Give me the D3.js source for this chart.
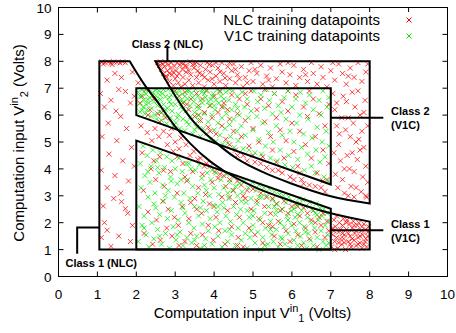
<!DOCTYPE html>
<html><head><meta charset="utf-8">
<script src="https://cdn.jsdelivr.net/npm/d3@7"></script>
<style>body{margin:0;background:#fff}svg{display:block}text{font-family:"Liberation Sans",Arial,Helvetica,sans-serif}</style>
</head><body><svg id="c" width="456" height="333"></svg>
<script>
const xTicks=[0,1,2,3,4,5,6,7,8,9,10];
const yTicks=[0,1,2,3,4,5,6,7,8,9,10];
const legendLabels=["NLC training datapoints","V1C training datapoints"];
const seriesColors=["#ff0000","#00ee00"];

// NLC training datapoints (red)
const nlcPoints=[
[1.12,7.98],[1.2,7.95],[1.28,7.97],[1.35,7.93],[1.42,7.98],[1.5,7.96],[1.58,7.94],[1.65,7.98],[1.72,7.95],[1.15,7.9],[1.38,7.88],[1.45,7.55],[1.62,7.4],[1.25,7.3],[1.55,6.95],[1.72,6.88],[1.35,6.55],[1.18,6.3],[1.48,6.15],[1.85,6.45],[1.95,6.7],[1.6,5.95],[1.28,5.7],[1.75,5.5],[1.12,5.2],[1.5,5.05],[1.88,4.8],[1.3,4.55],[1.65,4.3],[1.1,3.95],[1.45,3.75],[1.8,3.55],[1.25,3.3],[1.6,3.1],[1.15,2.62],[1.42,2.9],[1.62,2.78],[1.78,2.35],[1.72,2.52],[1.18,2.0],[1.25,1.72],[1.55,1.5],[1.35,1.12],[1.9,1.9],[1.85,1.3],[1.1,1.45],[1.95,4.1],[1.08,6.8],[1.9,7.6],
[2.05,7.2],[2.1,6.45],[2.12,5.6],[2.15,4.6],[2.18,3.2],[2.2,1.6],[2.25,6.95],[2.28,5.35],[2.3,2.4],[2.35,6.2],[2.38,4.0],[2.4,5.05],[2.42,1.2],[2.45,6.6],[2.48,5.5],[2.5,3.6],[2.52,2.1],[2.55,6.05],[2.58,5.2],[2.6,4.45],[2.62,1.35],[2.65,6.1],[2.68,2.8],[2.7,5.4],[2.72,3.35],[2.75,5.9],[2.78,1.8],[2.8,4.9],[2.82,2.5],[2.85,5.25],[2.88,3.9],[2.9,5.5],[2.92,1.5],[2.95,4.65],[2.98,2.2],[3.0,5.0],[3.05,3.1],[3.08,1.9],[3.1,4.75],[3.15,5.15],[3.18,2.6],[3.2,4.2],[3.25,1.3],[3.28,4.9],[3.3,3.55],[3.35,2.15],[3.38,4.5],[3.4,1.6],[3.45,3.9],[3.48,4.65],[3.5,2.9],[3.55,1.15],[3.58,4.35],[3.6,3.3],[3.65,4.4],[3.68,2.35],[3.7,1.55],[3.75,4.1],[3.78,3.05],[3.8,4.2],[3.85,1.9],[3.88,2.7],[3.9,4.1],[3.95,3.5],[3.98,1.35],[4.02,3.9],[4.05,2.2],[4.1,3.65],[4.12,1.7],[4.15,3.8],[4.2,2.95],[4.25,3.75],[4.28,1.2],[4.3,3.35],[4.35,2.45],[4.4,3.6],[4.45,1.85],[4.5,3.2],[4.55,2.75],[4.6,3.55],[4.62,1.45],[4.65,2.2],[4.7,3.4],[4.75,1.1],[4.8,2.9],[4.85,3.2],[4.9,1.8],[4.95,2.5],[5.0,3.25],[5.05,1.55],[5.1,2.8],[5.15,2.15],[5.2,3.1],[5.25,1.25],[5.3,2.6],[5.35,2.95],[5.4,1.9],[5.45,2.35],[5.5,2.9],[5.55,1.5],[5.6,2.7],[5.65,2.05],[5.7,1.2],[5.75,2.5],[5.8,2.8],[5.85,1.7],[5.9,2.35],[5.95,1.3],[6.0,2.6],[6.05,1.95],[6.1,2.7],[6.15,1.55],[6.2,2.25],[6.25,1.15],[6.3,2.55],[6.35,1.8],[6.4,2.35],[6.45,1.4],[6.5,2.1],[6.55,2.45],[6.6,1.65],[6.65,1.1],[6.7,2.2],[6.75,1.9],[6.8,2.35],[6.85,1.45],[6.9,2.05],[6.95,1.7],[2.3,6.0],[2.6,5.75],[2.15,6.7],[2.45,4.3],[3.05,4.45],[3.25,3.7],[3.55,2.5],[3.7,3.8],[4.0,2.6],[4.4,2.95],[4.75,3.0],[5.25,2.0],[5.7,2.45],[6.15,2.6],[6.6,2.0],[3.4,2.75],[4.6,1.15],[5.5,1.85],[2.7,3.95],[3.1,1.15],
[7.02,1.1],[7.05,1.55],[7.08,2.1],[7.1,1.3],[7.12,1.85],[7.15,2.25],[7.18,1.05],[7.2,1.65],[7.22,2.0],[7.25,1.4],[7.28,1.2],[7.3,1.9],[7.32,2.15],[7.35,1.55],[7.38,1.0],[7.4,1.75],[7.42,2.1],[7.45,1.3],[7.48,1.95],[7.5,1.5],[7.52,1.1],[7.55,1.8],[7.58,2.05],[7.6,1.35],[7.62,1.6],[7.65,1.15],[7.68,1.9],[7.7,1.45],[7.72,2.0],[7.75,1.25],[7.78,1.7],[7.8,1.05],[7.82,1.55],[7.85,1.95],[7.88,1.3],[7.9,1.75],[7.92,1.1],[7.95,1.5],[7.97,1.85],[7.05,1.8],[7.15,1.45],[7.25,1.75],[7.35,1.25],[7.45,1.6],[7.55,1.4],[7.65,1.7],[7.75,1.5],[7.85,1.2],[7.95,1.65],[7.1,1.0],[7.3,1.6],[7.5,1.2],[7.7,1.2],[7.9,1.4],[7.4,2.0],[7.6,1.9],[7.8,1.85],[7.2,1.25],[7.08,1.7],[7.33,1.4],
[2.55,7.95],[2.6,7.85],[2.62,7.98],[2.65,7.7],[2.68,7.9],[2.7,7.55],[2.72,7.8],[2.75,7.97],[2.78,7.4],[2.8,7.65],[2.82,7.88],[2.85,7.25],[2.88,7.75],[2.9,7.95],[2.92,7.5],[2.95,7.1],[2.98,7.82],[3.0,7.35],[3.02,7.65],[3.05,7.95],[3.08,7.2],[3.1,7.55],[3.12,7.85],[3.15,7.05],[3.18,7.7],[3.2,7.4],[3.22,7.92],[3.25,7.15],[3.28,7.6],[3.3,7.8],[3.35,7.3],[3.38,7.98],[3.4,7.5],[3.45,7.1],[3.48,7.75],[3.5,7.9],[3.55,7.4],[3.58,7.65],[3.6,7.2],[3.65,7.85],[3.7,7.5],[3.75,7.05],[3.78,7.7],[3.82,7.95],[3.85,7.3],[3.9,7.6],[3.95,7.85],[4.0,7.15],[4.05,7.45],[4.1,7.75],[4.15,7.25],[4.2,7.95],[4.25,7.55],[4.3,7.1],[4.35,7.8],[4.4,7.35],[4.45,7.65],[4.5,7.9],[4.55,7.2],[4.6,7.5],[4.7,7.8],[4.75,7.05],[4.8,7.4],[4.9,7.65],[4.95,7.95],[5.0,7.25],[5.1,7.55],[5.2,7.85],[5.25,7.15],[5.35,7.45],[5.45,7.75],[5.5,7.05],[5.6,7.35],[5.7,7.9],[5.75,7.6],[5.85,7.2],[5.95,7.5],[6.05,7.85],[6.1,7.1],[6.2,7.4],[6.3,7.7],[6.4,7.25],[6.5,7.95],[6.55,7.55],[6.65,7.15],[6.75,7.8],[6.8,7.4],[6.9,7.05],[7.0,7.65],[7.1,7.3],[7.2,7.9],[7.3,7.55],[7.4,7.15],[7.5,7.75],[7.6,7.4],[7.7,7.95],[7.8,7.25],[7.9,7.6],[7.95,7.9],[2.76,7.45],[2.95,7.6],[3.15,7.95],[3.35,7.65],[3.55,7.95],[3.75,7.4],[3.95,7.35],[4.15,7.6],[4.4,7.95],[4.65,7.35],[5.05,7.7],[5.4,7.3],[5.9,7.95],[6.35,7.5],[7.05,7.95],[7.45,7.45],[2.85,7.55],[3.05,7.45],[3.25,7.82],[3.45,7.88],[3.62,7.55],[3.88,7.88],[4.05,7.95],[4.28,7.38],[4.55,7.7],[4.85,7.2],
[7.05,6.8],[7.1,6.2],[7.15,5.6],[7.2,4.9],[7.25,4.3],[7.3,3.6],[7.35,3.1],[7.4,6.5],[7.45,5.9],[7.5,5.2],[7.55,4.6],[7.6,3.9],[7.65,3.3],[7.7,6.9],[7.75,6.0],[7.8,5.4],[7.85,4.8],[7.9,4.1],[7.95,3.5],[7.92,2.95],[7.12,3.8],[7.22,5.3],[7.32,6.7],[7.42,4.5],[7.52,3.35],[7.62,6.3],[7.72,5.1],[7.82,3.7],[7.88,6.55],[7.08,4.6],[7.28,5.9],[7.48,4.0],[7.58,5.7],[7.68,4.35],[7.78,3.15],[7.85,6.1],[7.18,3.3],[7.38,5.45],[7.55,6.85],[7.75,4.7],[7.95,5.6],[7.15,6.45],[7.35,4.0],[7.65,5.0],[7.9,3.0],[7.45,3.0],[7.6,2.95],
[3.0,6.9],[3.1,6.7],[3.2,6.45],[3.25,6.85],[3.35,6.2],[3.4,6.6],[3.5,5.95],[3.55,6.8],[3.6,6.35],[3.65,5.8],[3.7,6.6],[3.75,6.1],[3.8,6.9],[3.85,5.55],[3.9,6.35],[3.95,5.9],[4.0,6.7],[4.05,5.3],[4.1,6.1],[4.15,6.9],[4.2,5.6],[4.25,6.45],[4.3,5.1],[4.35,6.2],[4.4,5.85],[4.45,6.75],[4.5,5.4],[4.55,4.7],[4.6,6.05],[4.65,6.6],[4.7,5.2],[4.75,4.5],[4.8,5.8],[4.85,6.4],[4.9,4.85],[4.95,6.9],[5.0,5.5],[5.05,4.25],[5.1,6.2],[5.15,5.0],[5.2,6.6],[5.25,4.45],[5.3,5.75],[5.35,4.05],[5.4,6.35],[5.45,5.2],[5.5,4.7],[5.55,6.8],[5.6,5.9],[5.65,3.95],[5.7,5.45],[5.75,6.5],[5.8,4.4],[5.85,5.05],[5.9,6.15],[5.95,3.7],[6.0,5.7],[6.05,4.65],[6.1,6.75],[6.15,4.1],[6.2,5.4],[6.25,3.6],[6.3,6.3],[6.35,4.9],[6.4,5.95],[6.45,3.4],[6.5,4.4],[6.55,6.6],[6.6,5.2],[6.65,3.85],[6.7,6.05],[6.75,3.3],[6.8,4.7],[6.85,5.6],[6.9,3.6],[6.95,6.4],[6.95,4.2],[4.6,4.5],[5.2,4.2],[5.75,3.85],[6.3,3.45],[6.85,3.15],[4.85,4.3],[5.5,3.95],[6.05,3.6],[6.6,3.35],[3.3,6.4],[3.6,6.0],[4.2,6.3],[4.8,6.8],[5.3,6.95],[5.9,6.9],[6.45,6.9],[3.9,5.4],[4.4,4.9],[5.0,4.5],[5.6,4.25],[6.2,3.85],[6.8,3.55]
];

// V1C training datapoints (green)
const v1cPoints=[
[2.05,6.85],[2.08,6.42],[2.1,6.12],[2.12,6.68],[2.15,6.95],[2.18,6.3],[2.2,6.55],[2.22,6.05],[2.25,6.78],[2.28,6.2],[2.3,6.92],[2.32,6.45],[2.35,6.65],[2.38,5.95],[2.4,6.25],[2.42,6.85],[2.45,6.5],[2.48,6.02],[2.5,6.72],[2.52,5.85],[2.55,6.35],[2.58,6.9],[2.6,6.12],[2.62,6.58],[2.65,5.8],[2.68,6.8],[2.7,6.4],[2.72,6.0],[2.75,6.68],[2.78,5.68],[2.8,6.25],[2.82,6.95],[2.85,6.5],[2.88,5.9],[2.9,6.75],[2.92,6.15],[2.95,5.6],[2.98,6.88],[3.0,6.4],[3.02,5.72],[3.05,6.62],[3.08,6.02],[3.1,6.95],[3.12,5.5],[3.15,6.3],[3.18,6.78],[3.2,5.85],[3.22,6.5],[3.25,5.42],[3.28,6.15],[3.3,6.9],[3.32,6.6],[3.35,5.65],[3.38,6.35],[3.4,5.95],[3.42,6.82],[3.45,5.3],[3.48,6.5],[3.5,6.1],[3.52,6.95],[3.55,5.55],[3.58,6.7],[3.6,5.8],[3.62,6.25],[3.65,5.2],[3.68,6.85],[3.7,6.45],[3.72,5.5],[3.75,6.05],[3.78,6.65],[3.8,5.3],[3.82,6.92],[3.85,5.75],[3.88,6.35],[3.9,5.1],[3.92,6.58],[3.95,6.0],[3.98,6.8],[4.0,5.45],[4.02,6.2],[4.05,5.02],[4.08,6.95],[4.1,5.7],[4.12,6.45],[4.15,5.25],[4.18,6.7],[4.2,5.9],[4.22,4.92],[4.25,6.3],[4.28,5.5],[4.3,6.85],[4.32,6.05],[4.35,4.95],[4.38,6.55],[4.4,5.65],[4.42,5.2],[4.45,6.2],[4.48,6.9],[4.5,5.85],[4.52,4.8],[4.55,6.4],[4.58,5.4],[4.6,6.7],[4.62,5.05],[4.65,6.0],[4.7,5.6],[4.72,6.85],[4.75,4.75],[4.78,6.3],[4.8,5.25],[4.85,6.6],[4.88,5.9],[4.9,4.7],[4.95,6.15],[5.0,5.45],[5.02,6.9],[5.05,4.6],[5.1,5.95],[5.12,6.5],[5.15,5.1],[5.2,6.75],[5.22,4.55],[5.25,5.7],[5.3,6.25],[5.32,4.85],[5.35,6.95],[5.4,5.35],[5.42,6.55],[5.45,4.4],[5.5,6.05],[5.52,5.0],[5.55,6.8],[5.6,5.6],[5.62,4.3],[5.65,6.35],[5.7,4.7],[5.72,6.1],[5.75,5.25],[5.8,6.65],[5.82,4.15],[5.85,5.85],[5.9,6.9],[5.92,4.5],[5.95,5.4],[6.0,6.3],[6.02,4.05],[6.05,5.0],[6.1,6.6],[6.12,5.7],[6.15,4.35],[6.2,6.0],[6.22,6.85],[6.25,4.8],[6.3,5.3],[6.32,3.95],[6.35,6.45],[6.4,4.55],[6.42,5.85],[6.45,6.75],[6.5,4.1],[6.52,5.15],[6.55,6.2],[6.6,3.85],[6.62,4.7],[6.65,5.55],[6.7,6.55],[6.72,4.25],[6.75,6.0],[6.78,5.0],[6.8,6.9],[6.82,3.7],[6.85,4.45],[6.88,5.4],[6.9,6.3],[6.92,3.55],[6.95,4.85],[6.95,6.65],
[2.1,6.7],[2.2,6.88],[2.3,6.58],[2.4,6.72],[2.5,6.92],[2.6,6.75],[2.7,6.95],[2.25,6.4],[2.55,6.55],[2.75,6.2],[2.9,6.4],[3.05,6.8],[3.15,6.55],[3.25,6.7],[3.35,6.9],[3.45,6.65],[3.55,6.3],[3.65,6.55],[3.75,6.8],[3.85,6.5],[3.95,6.7],[4.05,6.55],[4.15,6.85],[4.25,6.6],[3.2,6.2],[3.6,6.0],[4.0,6.35],[2.15,6.2],[2.85,6.65],[3.05,5.9],[3.5,5.45],[3.7,6.95],[4.4,6.95],[4.6,6.25],[3.3,5.75],
[2.05,1.3],[2.07,2.6],[2.1,4.2],[2.12,3.3],[2.15,1.9],[2.18,4.85],[2.2,2.25],[2.22,3.75],[2.25,1.55],[2.28,4.5],[2.3,2.95],[2.32,1.1],[2.35,3.5],[2.38,4.1],[2.4,2.0],[2.42,4.7],[2.45,1.4],[2.48,3.1],[2.5,2.55],[2.52,4.3],[2.55,1.75],[2.58,3.85],[2.6,2.3],[2.62,4.6],[2.65,1.2],[2.68,3.4],[2.7,2.8],[2.72,4.05],[2.75,1.6],[2.78,4.45],[2.8,2.15],[2.82,3.2],[2.85,1.05],[2.88,3.7],[2.9,2.45],[2.92,4.3],[2.95,1.85],[2.98,2.95],[3.0,4.0],[3.02,1.35],[3.05,3.45],[3.08,2.1],[3.1,4.4],[3.12,1.65],[3.15,2.75],[3.18,3.9],[3.2,1.15],[3.22,3.1],[3.25,2.35],[3.28,4.2],[3.3,1.45],[3.32,3.6],[3.35,2.0],[3.38,2.9],[3.4,4.0],[3.42,1.25],[3.45,3.35],[3.48,1.8],[3.5,2.6],[3.52,3.95],[3.55,1.5],[3.58,3.1],[3.6,2.25],[3.62,4.15],[3.65,1.05],[3.68,3.65],[3.7,1.95],[3.72,2.8],[3.75,3.4],[3.78,1.4],[3.8,2.45],[3.82,3.85],[3.85,1.7],[3.88,3.0],[3.9,2.15],[3.92,3.6],[3.95,1.2],[3.98,2.65],[4.0,3.3],[4.02,1.85],[4.05,3.85],[4.08,2.4],[4.1,1.5],[4.12,3.05],[4.15,2.0],[4.18,3.6],[4.2,1.1],[4.22,2.75],[4.25,3.3],[4.28,1.7],[4.3,2.25],[4.32,3.8],[4.35,1.3],[4.38,2.9],[4.4,3.5],[4.42,2.05],[4.45,1.55],[4.48,3.2],[4.5,2.6],[4.52,3.7],[4.55,1.15],[4.58,2.3],[4.6,3.0],[4.62,1.8],[4.65,3.45],[4.68,2.5],[4.7,1.35],[4.72,3.15],[4.75,2.0],[4.78,3.55],[4.8,1.6],[4.82,2.75],[4.85,1.05],[4.88,3.3],[4.9,2.2],[4.92,1.45],[4.95,2.9],[4.98,3.5],[5.0,1.9],[5.02,2.45],[5.05,1.25],[5.08,3.2],[5.1,2.7],[5.12,1.65],[5.15,3.4],[5.18,2.1],[5.2,1.0],[5.22,2.95],[5.25,1.45],[5.28,3.3],[5.3,2.35],[5.32,1.8],[5.35,3.0],[5.38,1.2],[5.4,2.6],[5.42,3.25],[5.45,2.05],[5.48,1.55],[5.5,2.85],[5.52,1.3],[5.55,3.15],[5.58,2.3],[5.6,1.75],[5.62,2.7],[5.65,1.1],[5.68,3.05],[5.7,2.0],[5.72,1.45],[5.75,2.5],[5.78,3.0],[5.8,1.85],[5.82,1.2],[5.85,2.75],[5.88,2.25],[5.9,1.6],[5.92,2.95],[5.95,1.05],[5.98,2.45],[6.0,1.9],[6.02,2.8],[6.05,1.35],[6.08,2.2],[6.1,1.7],[6.12,2.65],[6.15,1.15],[6.18,2.9],[6.2,2.0],[6.22,1.5],[6.25,2.45],[6.28,2.85],[6.3,1.25],[6.32,1.85],[6.35,2.6],[6.38,1.05],[6.4,2.2],[6.42,1.6],[6.45,2.75],[6.48,1.35],[6.5,2.0],[6.52,2.5],[6.55,1.15],[6.58,1.8],[6.6,2.35],[6.62,2.7],[6.65,1.45],[6.68,2.1],[6.7,1.0],[6.72,2.55],[6.75,1.7],[6.78,2.25],[6.8,1.3],[6.82,2.5],[6.85,1.9],[6.88,1.15],[6.9,2.35],[6.92,1.55],[6.95,2.05],[6.95,1.25],
[2.3,3.9],[2.6,1.5],[2.9,3.55],[3.2,2.55],[3.5,1.35],[3.8,3.2],[4.1,2.6],[4.4,1.75],[4.7,2.8],[5.0,2.25],[5.3,1.15],[5.6,2.45],[5.9,2.1],[6.2,2.7],[2.45,2.7],[2.75,3.0],[3.05,1.55],[3.35,4.2],[3.65,2.55],[3.95,3.95],[4.25,2.55],[4.55,3.35],[4.85,2.45],[5.15,2.95],[5.45,1.75],[5.75,1.4],[6.05,2.5],[6.35,1.65],[6.65,2.3],[2.2,1.8],[2.55,4.05],[3.15,3.6],[3.75,1.15],[4.35,3.1],[4.95,1.7],[5.55,2.6],[6.15,2.3]
];

// Class boundaries (data units)
const nlcClass1Curve=[[1.83,8],[2.2,7.15],[2.54,6.5],[2.96,5.65],[3.39,4.94],[3.9,4.28],[4.24,3.94],[5,3.35],[6,2.8],[7,2.35],[8,2.04]];
const nlcClass1Corners=[[8,1],[1.05,1],[1.05,8]];
const nlcClass2Curve=[[2.49,8],[2.88,7.0],[3.39,5.9],[4.08,4.94],[4.59,4.38],[5.3,3.85],[6,3.45],[7,2.98],[8,2.71]];
const nlcClass2Corners=[[8,8]];
const v1cClass1Box=[[2,1],[2,5.05],[7,2.52],[7,1]];
const v1cClass2Box=[[2,7],[7,7],[7,3.42],[2,6]];

// Annotations: label lines and leader lines (data units)
const annLabels=[
 {lines:["Class 2 (NLC)"],at:[2.8,8.5],anchor:"middle"},
 {lines:["Class 1 (NLC)"],at:[0.18,0.35],anchor:"start"},
 {lines:["Class 2","(V1C)"],at:[8.55,6.0],anchor:"start"},
 {lines:["Class 1","(V1C)"],at:[8.55,1.8],anchor:"start"}
];
const leaders=[
 [[2.8,8.57],[2.8,8]],
 [[0.48,0.85],[0.48,1.82],[1.05,1.82]],
 [[7,5.9],[8.35,5.9]],
 [[7,1.72],[8.35,1.72]]
];

const svg=d3.select("#c");
const x=d3.scaleLinear().domain([0,10]).range([58.5,447.5]);
const y=d3.scaleLinear().domain([0,10]).range([276.5,7.5]);

// points
const cross="M-2.5,-2.5L2.5,2.5M-2.5,2.5L2.5,-2.5";
function drawPts(data,color){
  svg.append("g").selectAll("path").data(data).join("path")
    .attr("d",cross).attr("transform",d=>`translate(${x(d[0])},${y(d[1])})`)
    .attr("stroke",color).attr("stroke-width",1).attr("fill","none").attr("opacity",0.75);
}
drawPts(nlcPoints,seriesColors[0]);
drawPts(v1cPoints,seriesColors[1]);

// boundaries
const lineGen=d3.line().x(d=>x(d[0])).y(d=>y(d[1]));
const curveGen=d3.line().x(d=>x(d[0])).y(d=>y(d[1])).curve(d3.curveMonotoneX);
const bg=svg.append("g").attr("fill","none").attr("stroke","#000").attr("stroke-width",2).attr("stroke-linejoin","miter");
bg.append("path").attr("d",lineGen(nlcClass1Corners)+curveGen(nlcClass1Curve).replace(/^M/,"L")+"Z");
bg.append("path").attr("d",curveGen(nlcClass2Curve)+lineGen(nlcClass2Corners).replace(/^M/,"L")+"Z");
bg.append("path").attr("d",lineGen(v1cClass1Box)+"Z");
bg.append("path").attr("d",lineGen(v1cClass2Box)+"Z");
leaders.forEach(l=>bg.append("path").attr("d",lineGen(l)));

// annotation labels
annLabels.forEach(a=>{
  a.lines.forEach((t,i)=>{
    svg.append("text").attr("x",x(a.at[0])).attr("y",y(a.at[1])+i*13.5)
      .attr("text-anchor",a.anchor).attr("font-size",11).attr("font-weight","bold").text(t);
  });
});

// axes frame
const ax=svg.append("g").attr("stroke","#000").attr("stroke-width",1).attr("fill","none");
ax.append("rect").attr("x",x(0)).attr("y",y(10)).attr("width",x(10)-x(0)).attr("height",y(0)-y(10));
xTicks.forEach(t=>{
  ax.append("line").attr("x1",x(t)).attr("x2",x(t)).attr("y1",y(0)).attr("y2",y(0)-5);
  ax.append("line").attr("x1",x(t)).attr("x2",x(t)).attr("y1",y(10)).attr("y2",y(10)+5);
});
yTicks.forEach(t=>{
  ax.append("line").attr("y1",y(t)).attr("y2",y(t)).attr("x1",x(0)).attr("x2",x(0)+5);
  ax.append("line").attr("y1",y(t)).attr("y2",y(t)).attr("x1",x(10)).attr("x2",x(10)-5);
});
svg.append("g").selectAll("text").data(xTicks).join("text")
  .attr("x",d=>x(d)).attr("y",y(0)+22).attr("text-anchor","middle").attr("font-size",13.5).text(d=>d);
svg.append("g").selectAll("text").data(yTicks).join("text")
  .attr("x",x(0)-7).attr("y",d=>y(d)+5).attr("text-anchor","end").attr("font-size",13.5).text(d=>d);

// axis titles
const xt=svg.append("text").attr("x",252.5).attr("y",318).attr("text-anchor","middle").attr("font-size",15);
xt.append("tspan").text("Computation input V");
xt.append("tspan").attr("font-size",11).attr("dy",-6).text("in");
xt.append("tspan").attr("font-size",11).attr("dy",10).text("1");
xt.append("tspan").attr("dy",-4).text(" (Volts)");
const yt=svg.append("text").attr("transform","translate(24,143) rotate(-90)").attr("text-anchor","middle").attr("font-size",15);
yt.append("tspan").text("Computation input V");
yt.append("tspan").attr("font-size",11).attr("dy",-6).text("in");
yt.append("tspan").attr("font-size",11).attr("dy",10).text("2");
yt.append("tspan").attr("dy",-4).text(" (Volts)");

// legend
legendLabels.forEach((lab,i)=>{
  const ly=20+i*16;
  svg.append("rect").attr("x",216).attr("y",ly-8).attr("width",205).attr("height",16).attr("fill","#fff");
  svg.append("text").attr("x",380).attr("y",ly+5).attr("text-anchor","end").attr("font-size",15).text(lab);
  svg.append("path").attr("d",cross).attr("transform",`translate(409,${ly})`)
    .attr("stroke",seriesColors[i]).attr("stroke-width",1).attr("fill","none");
});
</script></body></html>
